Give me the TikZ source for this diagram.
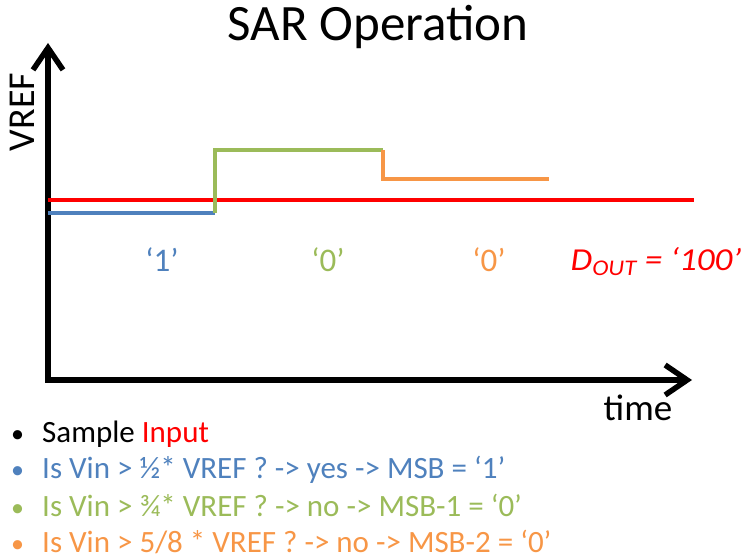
\documentclass[tikz,border=0pt]{standalone}
\usepackage{fontspec}
\setmainfont{Carlito}
\usetikzlibrary{arrows.meta}
\definecolor{sarblue}{RGB}{79,129,189}
\definecolor{sargreen}{RGB}{155,187,89}
\definecolor{sarorange}{RGB}{247,150,70}
\definecolor{sarred}{RGB}{255,0,0}
\tikzset{
  axis/.style={line width=5.5pt, -{Straight Barb[length=22pt,width=30pt,line width=5.5pt]}},
  level/.style={line width=4.5pt},
  bit/.style={font=\fontsize{33}{38}\selectfont, anchor=base, inner sep=0pt},
  bulletline/.style={font=\fontsize{31}{36}\selectfont, anchor=base west, inner sep=0pt},
  dot/.style={font=\fontsize{26}{30}\selectfont, anchor=base west, inner sep=0pt}
}
\begin{document}
\begin{tikzpicture}[x=1pt,y=-1pt]
\useasboundingbox (0,0) rectangle (749,559);

% title
\node[font=\fontsize{51}{60}\selectfont] (title) at (378,27) {SAR Operation};

% axes
\coordinate (origin) at (48,380);
\coordinate (ytip) at (48,43);
\coordinate (xtip) at (692,380);
\draw[axis, line cap=rect] (origin) -- (ytip);
\draw[axis] (origin) -- (xtip);
\node[rotate=90, font=\fontsize{38}{42}\selectfont] (vref) at (22,112) {VREF};
\node[font=\fontsize{37}{42}\selectfont, anchor=base, inner sep=0pt] (time) at (638,420) {time};

% comparison levels
\coordinate (r0) at (48,200);  \coordinate (r1) at (694,200);
\coordinate (b0) at (48,213);  \coordinate (b1) at (215,213);
\coordinate (g1) at (215,150); \coordinate (g2) at (383,150);
\coordinate (o1) at (383,179); \coordinate (o2) at (549,179);
\draw[level, sarred] (r0) -- (r1);
\draw[level, sarblue] (b0) -- (b1);
\draw[level, sargreen] (b1) -- (g1) -- (g2);
\draw[level, sarorange] (g2) -- (o1) -- (o2);

% decided bits
\node[bit, sarblue] (bit1) at (162,271) {‘1’};
\node[bit, sargreen] (bit2) at (328,271) {‘0’};
\node[bit, sarorange] (bit3) at (489,271) {‘0’};
\node[bit, sarred, font=\fontsize{32}{36}\selectfont\itshape, xscale=1.1] (dout) at (656,270) {D\textsubscript{OUT} = ‘100’};

% steps
\node[dot] (d1) at (11,442) {•};
\node[bulletline] (s1) at (42,442) {Sample \textcolor{sarred}{Input}};
\node[dot, sarblue] (d2) at (11,478) {•};
\node[bulletline, sarblue] (s2) at (42,478) {Is Vin > ½* VREF ? -> yes -> MSB = ‘1’};
\node[dot, sargreen] (d3) at (11,516) {•};
\node[bulletline, sargreen] (s3) at (42,516) {Is Vin > ¾* VREF ? -> no -> MSB-1 = ‘0’};
\node[dot, sarorange] (d4) at (11,552) {•};
\node[bulletline, sarorange] (s4) at (42,552) {Is Vin > 5/8 * VREF ? -> no -> MSB-2 = ‘0’};
\end{tikzpicture}
\end{document}
